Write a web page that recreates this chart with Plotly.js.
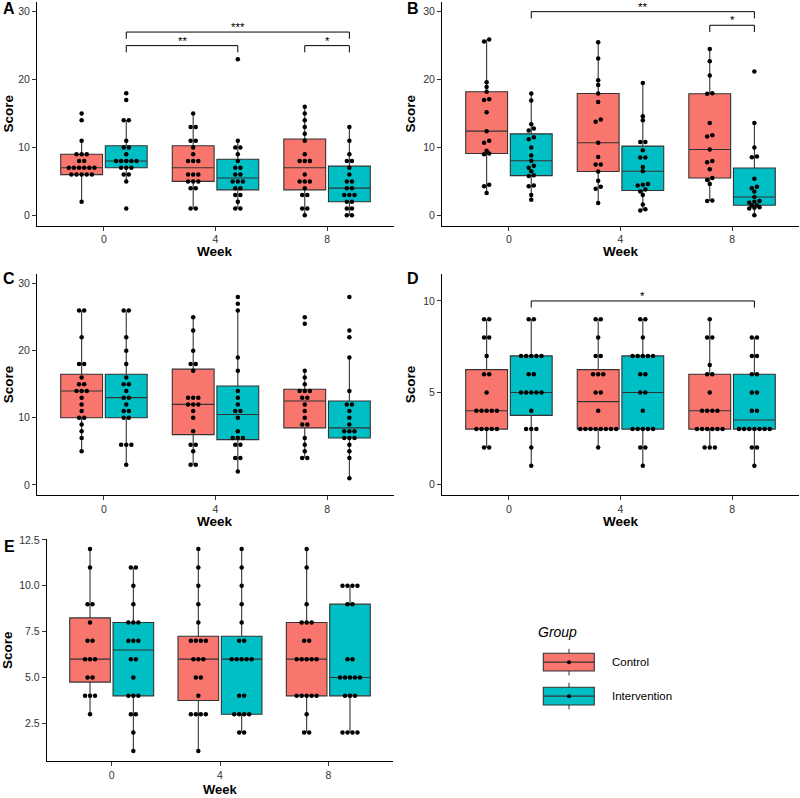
<!DOCTYPE html>
<html><head><meta charset="utf-8">
<script src="https://cdn.plot.ly/plotly-3.0.1.min.js"></script>
<style>html,body{margin:0;padding:0;background:#fff}#chart{width:800px;height:798px}</style>
</head><body><div id="chart"></div>
<script>
// ---------- data ----------
const weeks = ['0', '4', '8'];
const groups = ['Control', 'Intervention'];
const groupColors = ['#F8766D', '#00BFC4'];

// Panel A (per week 0, 4, 8)
const A_control = [
  [2,6,6,6,6,6,7,7,7,7,7,7,8,8,9,9,9,11,14,15],
  [1,1,4,4,5,5,5,6,6,6,8,8,8,9,10,11,11,13,13,15],
  [0,1,1,3,3,4,5,5,5,6,8,8,8,9,11,12,13,14,15,16]
];
const A_intervention = [
  [1,5,6,6,7,7,7,8,8,8,8,8,9,10,10,11,14,14,17,18],
  [1,1,2,3,3,4,4,5,5,5,6,6,7,7,8,9,10,10,11,23],
  [0,0,1,1,2,2,3,3,3,4,4,5,5,6,7,8,8,9,11,13]
];
// Panel B
const B_control = [
  [3.3,4.3,4.5,9.0,9.1,9.5,10.7,11.0,12.4,15.2,17.0,17.1,18.2,18.9,19.6,25.6,25.9],
  [1.8,3.9,4.2,5.1,6.45,7.5,7.5,8.6,10.7,13.8,14.1,16.7,17.95,19.2,19.9,23.1,25.5],
  [2.1,2.2,4.6,5.2,5.5,6.8,7.8,8.0,9.7,11.6,11.8,13.6,17.9,18.0,20.6,22.7,24.5]
];
const B_intervention = [
  [2.3,3.0,4.3,4.4,5.8,5.9,6.5,7.0,7.3,8.05,8.8,10.0,11.2,11.5,12.5,12.8,13.4,16.9,17.95],
  [0.7,0.9,1.6,3.0,3.5,3.8,4.4,4.5,4.6,6.5,7.1,8.5,8.5,9.6,10.8,10.8,14.0,14.6,19.5],
  [0,1.0,1.1,1.2,1.45,1.5,1.9,2.0,2.1,2.7,3.5,4.0,4.2,5.4,8.55,8.65,10.0,13.6,21.2]
];
// Panel C
const C_control = [
  [5,7,8,9,10,10,11,12,13,14,14,14,15,15,16,18,18,22,26,26],
  [3,3,5,6,6,8,10,11,12,12,12,13,13,13,17,18,18,20,23,25],
  [4,4,5,6,7,9,9,10,11,12,13,13,14,14,14,15,16,17,24,25]
];
const C_intervention = [
  [3,6,6,6,10,10,11,11,12,13,13,14,15,15,16,18,20,22,26,26],
  [2,4,4,6,6,7,7,7,8,10,11,11,12,13,14,17,19,26,27,28],
  [1,4,5,6,7,7,7,8,8,8,9,10,11,12,12,14,19,22,23,28]
];
// Panel D
const D_control = [
  [2,2,3,3,3,3,3,4,4,4,4,4,5,6,6,7,8,8,9,9],
  [2,3,3,3,3,3,3,3,3,4,5,5,6,6,6,7,7,8,9,9],
  [2,2,2,3,3,3,3,3,3,4,4,4,4,5,6,6,6.5,8,8,9]
];
const D_intervention = [
  [1,2,3,3,3,4,5,5,5,5,5,6,6,7,7,7,7,7,9,9],
  [1,2,2,3,3,3,3,3,4,5,5,6,6,7,7,7,7,7,8,9,9],
  [1,2,2,3,3,3,3,3,3,3,4,4,5,5,6,6,7,7,8,8]
];
// Panel E
const E_control = [
  [3,4,4,4,5,5,6,6,6,7,7,8,9,9,11,12],
  [1,3,3,3,3,4,5,5,6,6,6,7,7,7,7,8,9,10,11,12],
  [2,2,3,4,4,4,4,4,6,6,6,6,6,7,7,8,8,8,9,11,12]
];
const E_intervention = [
  [1,2,3,3,4,4,4,5,6,6,7,7,7,8,8,8,9,10,11,11],
  [2,2,3,3,3,3,4,4,6,6,6,6,6,7,7,8,9,10,11,12],
  [2,2,2,2,4,4,4,5,5,5,5,5,6,6,9,9,10,10,10,10]
];

// significance brackets: [weekIndex, groupIndex]
const A_sigLabels = ['***', '**', '*'];
const A_sigY = [27, 25, 25];
const A_sigFrom = [[0,1],[0,1],[2,0]];
const A_sigTo = [[2,1],[1,1],[2,1]];
const B_sigLabels = ['**', '*'];
const B_sigY = [30, 28];
const B_sigFrom = [[0,1],[2,0]];
const B_sigTo = [[2,1],[2,1]];
const D_sigLabels = ['*'];
const D_sigY = [10];
const D_sigFrom = [[0,1]];
const D_sigTo = [[2,1]];

// ---------- layout helpers ----------
const W = 800, H = 798;
const FONT = 'Liberation Sans, Arial, Helvetica, sans-serif';
const px = v => v / W;
const py = v => 1 - v / H;
const groupOffset = [-0.2, 0.2];
const boxWidth = 0.375;
const dotStep = 0.046;

const panels = [
  {letter:'A', ctrl:A_control, intv:A_intervention, ax:'', xpx:[37,394], ypx:[1.5,225.5], yr:[-1.5,31.5], tv:[0,10,20,30], fmt:'', bw:0.4,
   sig:[A_sigLabels,A_sigY,A_sigFrom,A_sigTo], letterPos:[9,8], scoreX:8},
  {letter:'B', ctrl:B_control, intv:B_intervention, ax:'2', xpx:[442,799], ypx:[1.5,225.5], yr:[-1.5,31.5], tv:[0,10,20,30], fmt:'', bw:0.4,
   sig:[B_sigLabels,B_sigY,B_sigFrom,B_sigTo], letterPos:[413,8], scoreX:410},
  {letter:'C', ctrl:C_control, intv:C_intervention, ax:'3', xpx:[37,394], ypx:[273.5,495], yr:[-1.5,31.5], tv:[0,10,20,30], fmt:'', bw:0.4,
   sig:null, letterPos:[9,278], scoreX:8},
  {letter:'D', ctrl:D_control, intv:D_intervention, ax:'4', xpx:[442,799], ypx:[273.5,495], yr:[-0.6,11.5], tv:[0,5,10], fmt:'', bw:0.4,
   sig:[D_sigLabels,D_sigY,D_sigFrom,D_sigTo], letterPos:[413,278], scoreX:410},
  {letter:'E', ctrl:E_control, intv:E_intervention, ax:'5', xpx:[46.7,393.3], ypx:[539,761], yr:[0.45,12.55], tv:[2.5,5,7.5,10,12.5], fmt:'.1f', bw:0.4,
   sig:null, letterPos:[9,546], scoreX:7, bottomWeek:true}
];

// quantile like R type 7 (ggplot default)
function quant(sorted, p) {
  const h = (sorted.length - 1) * p, lo = Math.floor(h), hi = Math.ceil(h);
  return sorted[lo] + (h - lo) * (sorted[hi] - sorted[lo]);
}
function boxStats(vals) {
  const s = vals.slice().sort((a, b) => a - b);
  const q1 = quant(s, 0.25), med = quant(s, 0.5), q3 = quant(s, 0.75);
  const iqr = q3 - q1;
  const inside = s.filter(v => v >= q1 - 1.5 * iqr && v <= q3 + 1.5 * iqr);
  return {q1, med, q3, lf: inside[0], uf: inside[inside.length - 1]};
}
function stackOffsets(vals, bw) {
  const idx = vals.map((v, i) => i).sort((a, b) => vals[a] - vals[b]);
  const off = new Array(vals.length);
  let i = 0;
  while (i < idx.length) {
    const start = vals[idx[i]];
    let j = i;
    while (j < idx.length && vals[idx[j]] - start < bw) j++;
    const k = j - i;
    for (let m = 0; m < k; m++) off[idx[i + m]] = m - (k - 1) / 2;
    i = j;
  }
  return off;
}

const traces = [];
const layout = {
  width: W, height: H, margin: {l:0, r:0, t:0, b:0},
  paper_bgcolor: '#fff', plot_bgcolor: '#fff',
  showlegend: false, boxmode: 'overlay',
  font: {family: FONT, color: '#000'},
  annotations: [], shapes: []
};

panels.forEach(p => {
  const xa = 'x' + p.ax, ya = 'y' + p.ax;
  const series = [p.ctrl, p.intv];
  series.forEach((s, g) => {
    const stats = s.map(boxStats);
    traces.push({
      type: 'box', xaxis: xa, yaxis: ya, name: groups[g],
      x: s.map((v, w) => w + groupOffset[g]),
      q1: stats.map(t => t.q1), median: stats.map(t => t.med), q3: stats.map(t => t.q3),
      lowerfence: stats.map(t => t.lf), upperfence: stats.map(t => t.uf),
      width: boxWidth, fillcolor: groupColors[g],
      line: {color: '#333333', width: 1.1},
      boxpoints: false, whiskerwidth: 0, hoverinfo: 'skip'
    });
    const dx = [], dy = [];
    s.forEach((vals, w) => {
      const off = stackOffsets(vals, p.bw);
      vals.forEach((v, i) => { dx.push(w + groupOffset[g] + off[i] * dotStep); dy.push(v); });
    });
    traces.push({
      type: 'scatter', mode: 'markers', x: dx, y: dy, xaxis: xa, yaxis: ya,
      marker: {color: '#000', size: 4.5, line: {width: 0}}, hoverinfo: 'skip'
    });
  });

  const axKey = p.ax;
  layout['xaxis' + axKey] = {
    domain: [px(p.xpx[0]), px(p.xpx[1])], range: [-0.6, 2.6],
    anchor: ya, tickvals: [0, 1, 2], ticktext: weeks,
    showline: true, linecolor: '#000', linewidth: 1,
    ticks: 'outside', ticklen: 4, tickcolor: '#333', tickwidth: 1,
    showgrid: false, zeroline: false,
    tickfont: {size: 10.5, color: '#333', family: FONT}
  };
  layout['yaxis' + axKey] = {
    domain: [py(p.ypx[1]), py(p.ypx[0])], range: p.yr,
    anchor: xa, tickvals: p.tv, tickformat: p.fmt,
    showline: true, linecolor: '#000', linewidth: 1,
    ticks: 'outside', ticklen: 4, tickcolor: '#333', tickwidth: 1,
    showgrid: false, zeroline: false,
    tickfont: {size: 10.5, color: '#333', family: FONT}
  };

  layout.annotations.push({text: '<b>' + p.letter + '</b>', xref: 'paper', yref: 'paper',
    x: px(p.letterPos[0]), y: py(p.letterPos[1]), xanchor: 'center', yanchor: 'middle',
    showarrow: false, font: {size: 16, family: FONT, color: '#000'}});
  layout.annotations.push(p.bottomWeek ?
    {text: '<b>Week</b>', xref: 'paper', yref: 'paper',
     x: px((p.xpx[0] + p.xpx[1]) / 2), y: 0, xanchor: 'center', yanchor: 'bottom', borderpad: 0,
     showarrow: false, font: {size: 13, family: FONT, color: '#000'}} :
    {text: '<b>Week</b>', xref: 'paper', yref: 'paper',
     x: px((p.xpx[0] + p.xpx[1]) / 2), y: py(p.ypx[1] + 26), xanchor: 'center', yanchor: 'middle',
     showarrow: false, font: {size: 13.5, family: FONT, color: '#000'}});
  layout.annotations.push({text: '<b>Score</b>', xref: 'paper', yref: 'paper', textangle: -90,
    x: px(p.scoreX), y: py((p.ypx[0] + p.ypx[1]) / 2), xanchor: 'center', yanchor: 'middle',
    showarrow: false, font: {size: 13.5, family: FONT, color: '#000'}});

  if (p.sig) {
    const [labels, ys, froms, tos] = p.sig;
    const tip = 0.03 * (p.yr[1] - p.yr[0]);
    labels.forEach((lab, k) => {
      const x0 = froms[k][0] + groupOffset[froms[k][1]];
      const x1 = tos[k][0] + groupOffset[tos[k][1]];
      const y = ys[k];
      layout.shapes.push({type: 'path', xref: xa, yref: ya,
        path: `M ${x0},${y - tip} L ${x0},${y} L ${x1},${y} L ${x1},${y - tip}`,
        line: {color: '#000', width: 1}});
      layout.annotations.push({text: lab, xref: xa, yref: ya, x: (x0 + x1) / 2, y: y,
        xanchor: 'center', yanchor: 'bottom', yshift: -3, showarrow: false,
        font: {size: 11.5, family: FONT, color: '#000'}});
    });
  }
});

// legend (drawn manually to mimic ggplot keys)
layout.annotations.push({text: '<i>Group</i>', xref: 'paper', yref: 'paper', x: px(536), y: py(632),
  xanchor: 'left', yanchor: 'middle', showarrow: false, font: {size: 14, family: FONT, color: '#000'}});
const keyTop = [653.3, 687.3];
groups.forEach((g, i) => {
  const t = keyTop[i], b = t + 17.7, mid = (t + b) / 2, cx = 569;
  layout.shapes.push({type: 'line', xref: 'paper', yref: 'paper', x0: px(cx), x1: px(cx), y0: py(t - 4.5), y1: py(b + 4.5),
    line: {color: '#333', width: 1}});
  layout.shapes.push({type: 'rect', xref: 'paper', yref: 'paper', x0: px(543.3), x1: px(594.3), y0: py(b), y1: py(t),
    fillcolor: groupColors[i], line: {color: '#333', width: 1.1}});
  layout.shapes.push({type: 'line', xref: 'paper', yref: 'paper', x0: px(543.3), x1: px(594.3), y0: py(mid), y1: py(mid),
    line: {color: '#333', width: 1.1}});
  layout.shapes.push({type: 'circle', xref: 'paper', yref: 'paper', x0: px(cx - 2), x1: px(cx + 2), y0: py(mid + 2), y1: py(mid - 2),
    fillcolor: '#000', line: {width: 0}});
  layout.annotations.push({text: g, xref: 'paper', yref: 'paper', x: px(610), y: py(mid),
    xanchor: 'left', yanchor: 'middle', showarrow: false, font: {size: 11.5, family: FONT, color: '#000'}});
});

Plotly.newPlot('chart', traces, layout, {staticPlot: true, displayModeBar: false});
</script>
</body></html>
